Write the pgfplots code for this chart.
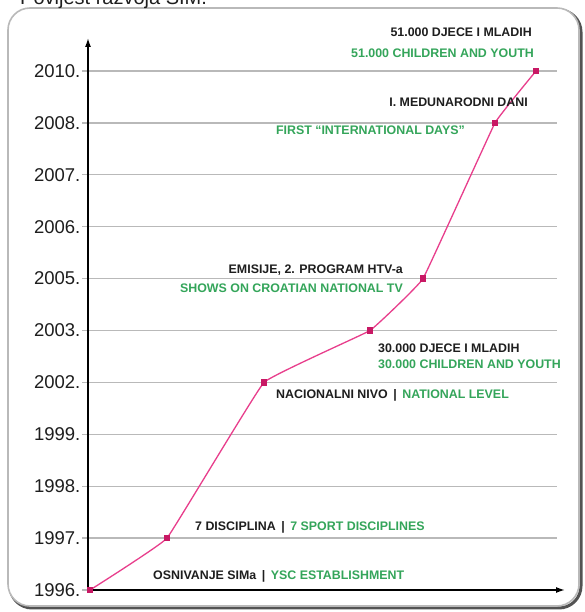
\documentclass[border=0pt]{standalone}
\usepackage{fontspec}
\setmainfont{Liberation Sans}
\usepackage{pgfplots}
\pgfplotsset{compat=1.18}
\usetikzlibrary{arrows.meta}

\definecolor{pinkline}{RGB}{232,62,140}
\definecolor{pinkmark}{RGB}{200,24,100}
\definecolor{simgreen}{RGB}{52,165,90}
\definecolor{simblack}{RGB}{30,30,30}
\definecolor{gridgray}{RGB}{185,185,185}

\newcommand{\lab}{\bfseries\fontsize{12.4}{14}\selectfont}

\begin{document}
\begin{tikzpicture}[x=1pt,y=1pt]
\useasboundingbox (0,0) rectangle (585,612);

% frame with shadow
\draw[line width=3pt, gray!65!black, rounded corners=22pt] (10,4) rectangle (581,602);
\draw[line width=1.6pt, gray!55, fill=white, rounded corners=22pt] (8,6) rectangle (579,604);

% title, cut by the top edge as in the original
\node[anchor=base west, inner sep=0pt, font=\fontsize{20}{22}\selectfont, text=simblack]
  at (20,607) {Povijest razvoja SIM.};

\begin{axis}[
    at={(88pt,22pt)}, anchor=origin,
    scale only axis,
    width=469pt, height=552pt,
    xmin=88, xmax=557,
    ymin=0, ymax=10.636,
    axis lines=left,
    x axis line style={line width=1.5pt, -{Latex[length=9pt,width=6pt]}, shorten >=-8pt},
    y axis line style={line width=1.5pt, -{Latex[length=9pt,width=6pt]}},
    xtick=\empty,
    ytick={0,...,10},
    yticklabels={1996.,1997.,1998.,1999.,2002.,2003.,2005.,2006.,2007.,2008.,2010.},
    yticklabel style={font=\fontsize{18.5}{20}\selectfont, text=simblack, anchor=east,
      inner sep=0pt, xshift=-1.5pt},
    major tick length=6pt,
    tick align=outside,
    tick style={gridgray, line width=1.3pt},
    ymajorgrids,
    major grid style={gridgray, line width=1.3pt},
    clip=false,
  ]
  \addplot[pinkline, line width=1.3pt, smooth, tension=0.12,
    mark=square*, mark size=2.6pt, mark options={fill=pinkmark, draw=pinkmark}]
    coordinates {(90,0)(167,1)(264,4)(370,5)(423,6)(495,9)(536,10)};
\end{axis}

% annotations
\begin{scope}[every node/.style={inner sep=0pt, font=\lab}]
\node[anchor=base east, text=simblack] at (532,575.5) {51.000 DJECE I MLADIH};
\node[anchor=base east, text=simgreen] at (534,554.5) {51.000 CHILDREN AND YOUTH};
\node[anchor=base east, text=simblack] at (528,505.5) {I. MEDUNARODNI DANI};
\node[anchor=base east, text=simgreen] at (465,477.5) {FIRST ``INTERNATIONAL DAYS''};
\node[anchor=base east, text=simblack] at (403,338.5) {EMISIJE, 2. PROGRAM HTV-a};
\node[anchor=base east, text=simgreen] at (403,319.5) {SHOWS ON CROATIAN NATIONAL TV};
\node[anchor=base west, text=simblack] at (378,259.5) {30.000 DJECE I MLADIH};
\node[anchor=base west, text=simgreen] at (378,243.5) {30.000 CHILDREN AND YOUTH};
\node[anchor=base west, text=simblack] at (276,213.5) {NACIONALNI NIVO \,|\, \textcolor{simgreen}{NATIONAL LEVEL}};
\node[anchor=base west, text=simblack] at (195,81.5) {7 DISCIPLINA \,|\, \textcolor{simgreen}{7 SPORT DISCIPLINES}};
\node[anchor=base west, text=simblack] at (153,32.5) {OSNIVANJE SIMa \,|\, \textcolor{simgreen}{YSC ESTABLISHMENT}};
\end{scope}
\end{tikzpicture}
\end{document}
